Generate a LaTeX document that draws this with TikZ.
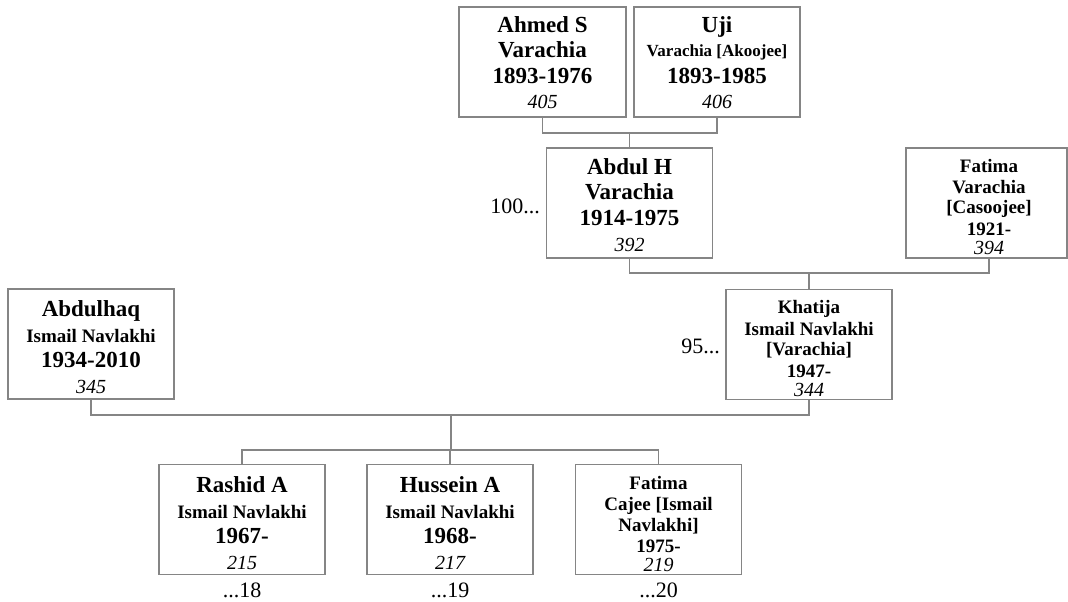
\documentclass[tikz,border=0pt]{standalone}
\usepackage{fontspec}
\setmainfont{Liberation Serif}
\definecolor{lgray}{HTML}{858585}
\begin{document}
\begin{tikzpicture}[x=1pt,y=-1pt,
  box/.style={draw=lgray, line width=1.3pt, minimum width=166pt, minimum height=110pt, inner sep=0pt},
  link/.style={draw=lgray, line width=1.3pt},
  big/.style={font=\bfseries\fontsize{23}{25}\selectfont, anchor=base, inner sep=0pt},
  small/.style={font=\bfseries\fontsize{19}{21}\selectfont, anchor=base, inner sep=0pt},
  tiny/.style={font=\bfseries\fontsize{17}{19}\selectfont, anchor=base, inner sep=0pt},
  num/.style={font=\itshape\fontsize{20}{22}\selectfont, anchor=base, inner sep=0pt},
  plain/.style={font=\fontsize{22}{24}\selectfont, inner sep=0pt}]
\useasboundingbox (0,0) rectangle (1068,602);

% boxes
\node[box, minimum width=167pt] (ahmed) at (542.5,62) {};
\node[box] (uji) at (717,62) {};
\node[box] (abdul) at (629.5,203) {};
\node[box, minimum width=161pt] (fatimav) at (986.5,203) {};
\node[box] (khatija) at (809,344.5) {};
\node[box] (abdulhaq) at (91,344) {};
\node[box] (rashid) at (242,519.5) {};
\node[box] (hussein) at (450,519.5) {};
\node[box] (fatimac) at (658.5,519.5) {};

% texts
\node[big] (t1) at (542.5,33) {Ahmed S};
\node[big] (t2) at (542.5,58) {Varachia};
\node[big] (t3) at (542.5,83) {1893-1976};
\node[num] (t4) at (542.5,108) {405};

\node[big] (u1) at (717,33) {Uji};
\node[tiny] (u2) at (717,57) {Varachia [Akoojee]};
\node[big] (u3) at (717,83) {1893-1985};
\node[num] (u4) at (717,108) {406};

\node[big] (a1) at (629.5,174) {Abdul H};
\node[big] (a2) at (629.5,199) {Varachia};
\node[big] (a3) at (629.5,225) {1914-1975};
\node[num] (a4) at (629.5,251) {392};

\node[small] (f1) at (989,172) {Fatima};
\node[small] (f2) at (989,193) {Varachia};
\node[small] (f3) at (989,213) {[Casoojee]};
\node[small] (f4) at (989,235) {1921-};
\node[num] (f5) at (989,254) {394};

\node[small] (k1) at (809,313) {Khatija};
\node[small] (k2) at (809,335) {Ismail Navlakhi};
\node[small] (k3) at (809,355) {[Varachia]};
\node[small] (k4) at (809,377) {1947-};
\node[num] (k5) at (809,396) {344};

\node[big] (h1) at (91,316) {Abdulhaq};
\node[small] (h2) at (91,342) {Ismail Navlakhi};
\node[big] (h3) at (91,367) {1934-2010};
\node[num] (h4) at (91,393) {345};

\node[big] (r1) at (242,492) {Rashid A};
\node[small] (r2) at (242,518) {Ismail Navlakhi};
\node[big] (r3) at (242,543) {1967-};
\node[num] (r4) at (242,569) {215};

\node[big] (s1) at (450,492) {Hussein A};
\node[small] (s2) at (450,518) {Ismail Navlakhi};
\node[big] (s3) at (450,543) {1968-};
\node[num] (s4) at (450,569) {217};

\node[small] (c1) at (658.5,489) {Fatima};
\node[small] (c2) at (658.5,510) {Cajee [Ismail};
\node[small] (c3) at (658.5,531) {Navlakhi]};
\node[small] (c4) at (658.5,552) {1975-};
\node[num] (c5) at (658.5,571) {219};

% side labels
\node[plain, anchor=east] (l100) at (540,206) {100...};
\node[plain, anchor=east] (l95) at (720,346) {95...};
\node[plain, anchor=base] (l18) at (242,597) {...18};
\node[plain, anchor=base] (l19) at (450,597) {...19};
\node[plain, anchor=base] (l20) at (658.5,597) {...20};

% connectors
\coordinate (m1) at (629.5,133);
\draw[link] (ahmed.south) |- (m1) -| (uji.south);
\draw[link] (m1) -- (abdul.north);

\coordinate (m2) at (809,273);
\draw[link] (abdul.south) |- (m2) -| ([xshift=2.5pt]fatimav.south);
\draw[link] (m2) -- (khatija.north);

\coordinate (m3) at (451,415);
\draw[link] (abdulhaq.south) |- (m3) -| (khatija.south);
\coordinate (m4) at (451,450);
\draw[link] (m3) -- (m4);
\draw[link] (rashid.north) |- (m4) -| (fatimac.north);
\draw[link] (m4) -| (hussein.north);
\end{tikzpicture}
\end{document}
